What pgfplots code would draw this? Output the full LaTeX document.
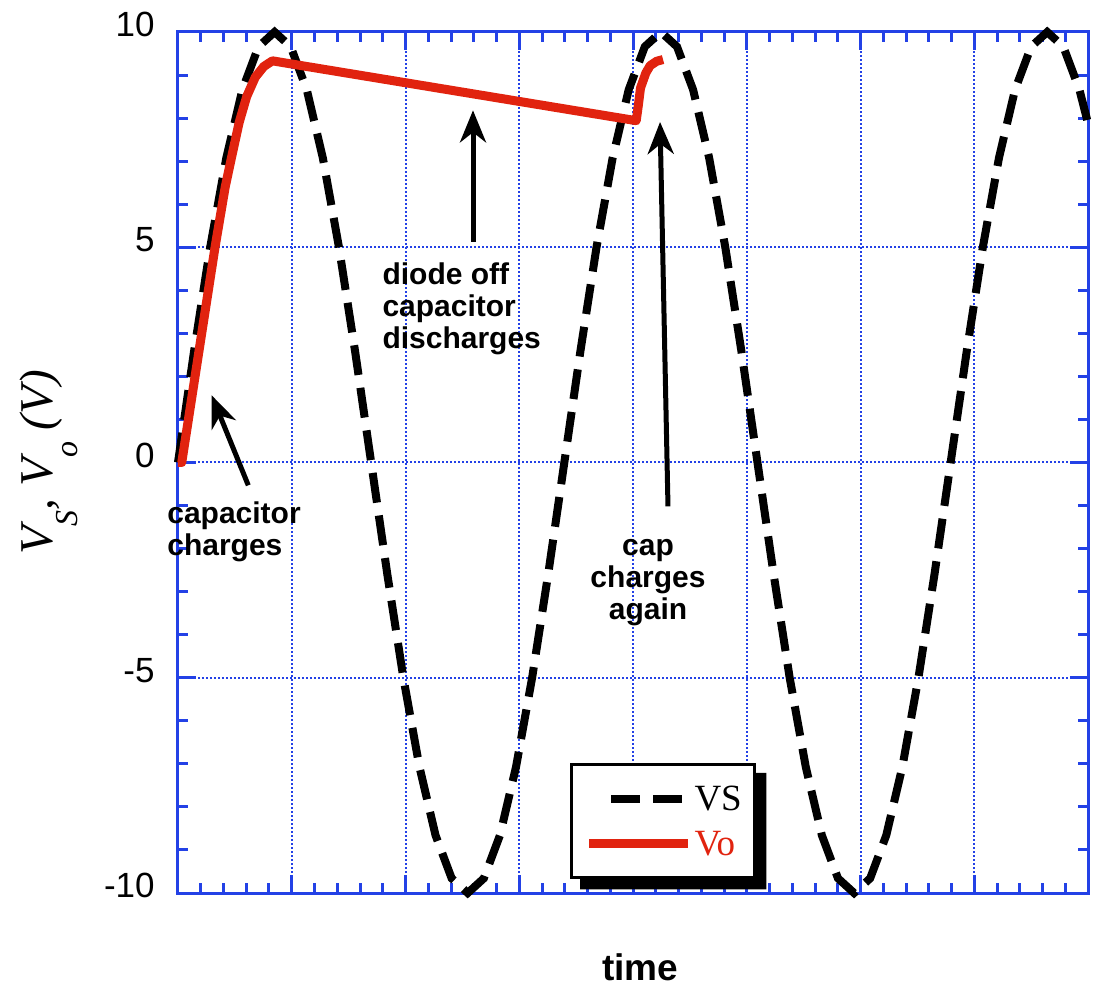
\documentclass[border=0pt]{standalone}
\usepackage{fontspec}
\setmainfont{Liberation Sans}
\newfontfamily\serifit{Liberation Serif}
\usepackage{pgfplots}
\pgfplotsset{compat=1.18}
\usetikzlibrary{arrows.meta,calc}
\definecolor{axblue}{RGB}{35,65,230}
\definecolor{vored}{RGB}{225,35,15}
\begin{document}
\begin{tikzpicture}
\begin{axis}[name=ax, scale only axis, width=455pt, height=430.5pt,
  xmin=0, xmax=848, ymin=-10, ymax=10,
  xtick={0,106,212,318,424,530,636,742,848}, xticklabels={},
  ytick={-10,-5,0,5,10}, yticklabels={-10,-5,0,5,10},
  minor x tick num=4, minor y tick num=4,
  xtick pos=both, ytick pos=both, tick align=inside,
  major tick length=9pt, minor tick length=5pt,
  axis line style={draw=axblue, line width=1.5pt},
  tick style={axblue, line width=1.5pt},
  grid=major, major grid style={axblue, line width=1pt, dash pattern=on 1pt off 1pt},
  yticklabel style={font=\fontsize{17.5}{18}\selectfont, anchor=east, inner sep=0pt, xshift=-11.5pt, yshift=3.75pt},
  clip=false,
  legend style={name=leg, at={(0.4308,0.151)}, anchor=north west, draw=black, line width=1.5pt, fill=white,
    inner xsep=6.5pt, inner ysep=11pt, row sep=10.25pt, column sep=1pt,
    font=\serifit\fontsize{18.5}{20}\selectfont,
    nodes={inner sep=0pt, text height=12.25pt, text depth=0pt}},
  legend cell align=left,
]
\addplot[black, line width=4pt, dash pattern=on 15pt off 6.5pt, line cap=butt,
  legend image code/.code={\path[draw=none] (0pt,0pt) -- (49.5pt,0pt);
    \draw[black, line width=4pt, dash pattern=on 14.5pt off 6.5pt, line cap=butt] (11pt,0pt) -- (47pt,0pt);}]
coordinates {
(0,0) (15,2.588) (30,5) (45,7.071) (60,8.660) (75,9.659) (90,10) (105,9.659) (120,8.660) (135,7.071) (150,5) (165,2.588)
(180,0) (195,-2.588) (210,-5) (225,-7.071) (240,-8.660) (255,-9.659) (270,-10) (285,-9.659) (300,-8.660) (315,-7.071) (330,-5) (345,-2.588)
(360,0) (375,2.588) (390,5) (405,7.071) (420,8.660) (435,9.659) (450,10) (465,9.659) (480,8.660) (495,7.071) (510,5) (525,2.588)
(540,0) (555,-2.588) (570,-5) (585,-7.071) (600,-8.660) (615,-9.659) (630,-10) (645,-9.659) (660,-8.660) (675,-7.071) (690,-5) (705,-2.588)
(720,0) (735,2.588) (750,5) (765,7.071) (780,8.660) (795,9.659) (810,10) (825,9.659) (840,8.660) (848,7.88)
};
\addlegendentry{VS}
\addplot[vored, line width=4.5pt, line join=round,
  legend image code/.code={\draw[vored, line width=4.5pt] (0pt,0pt) -- (49.5pt,0pt);}]
coordinates {
(0,0) (3.5,0) (34.5,5.0) (44,6.4) (50,7.1) (57,7.9) (64,8.5) (72,8.95) (80,9.2) (88,9.33)
(427,7.94) (429,8.3) (431,8.7) (436,9.05) (440,9.22) (446,9.32) (452,9.36)
};
\addlegendentry{\textcolor{vored}{Vo}}

\node[font=\bfseries\fontsize{15}{16}\selectfont, align=left, anchor=west] at (axis cs:184,3.57) {diode off\\capacitor\\discharges};
\node[font=\bfseries\fontsize{15}{16}\selectfont, align=left, anchor=west] at (axis cs:-16.5,-1.61) {capacitor\\charges};
\node[font=\bfseries\fontsize{15}{16}\selectfont, align=center] at (axis cs:438,-2.79) {cap\\charges\\again};

\draw[line width=2.5pt, -{Stealth[length=16pt,width=13pt,inset=5pt]}] (axis cs:274.9,5.13) -- (axis cs:274.9,8.18);
\draw[line width=2.5pt, -{Stealth[length=16pt,width=13pt,inset=5pt]}] (axis cs:65.5,-0.53) -- (axis cs:31.4,1.56);
\draw[line width=2.5pt, -{Stealth[length=16pt,width=13pt,inset=5pt]}] (axis cs:456.6,-1.02) -- (axis cs:449.2,7.91);
\end{axis}
\fill[black] ($(leg.south west)+(5pt,1.5pt)$) -- ($(leg.south west)+(5pt,-5pt)$) -- ($(leg.south east)+(5pt,-5pt)$)
  -- ($(leg.north east)+(5pt,-5pt)$) -- ($(leg.north east)+(-1.5pt,-5pt)$) -- ($(leg.south east)+(-1.5pt,1.5pt)$) -- cycle;
\node[font=\bfseries\fontsize{18.5}{20}\selectfont, anchor=base] at ($(ax.south west)!0.508!(ax.south east)+(0,-43.5pt)$) {time};
\node[rotate=90, anchor=base, font=\serifit\itshape\fontsize{23.5}{24}\selectfont] at ($(ax.south west)!0.5!(ax.north west)+(-62.5pt,0)$)
  {V\raisebox{-12.5pt}{\fontsize{16}{16}\selectfont S}, V\raisebox{-12.5pt}{\fontsize{16}{16}\selectfont o} (V)};
\pgfresetboundingbox
\path ($(ax.south west)+(-89pt,-47pt)$) rectangle ($(ax.north east)+(3pt,16pt)$);
\end{tikzpicture}
\end{document}
